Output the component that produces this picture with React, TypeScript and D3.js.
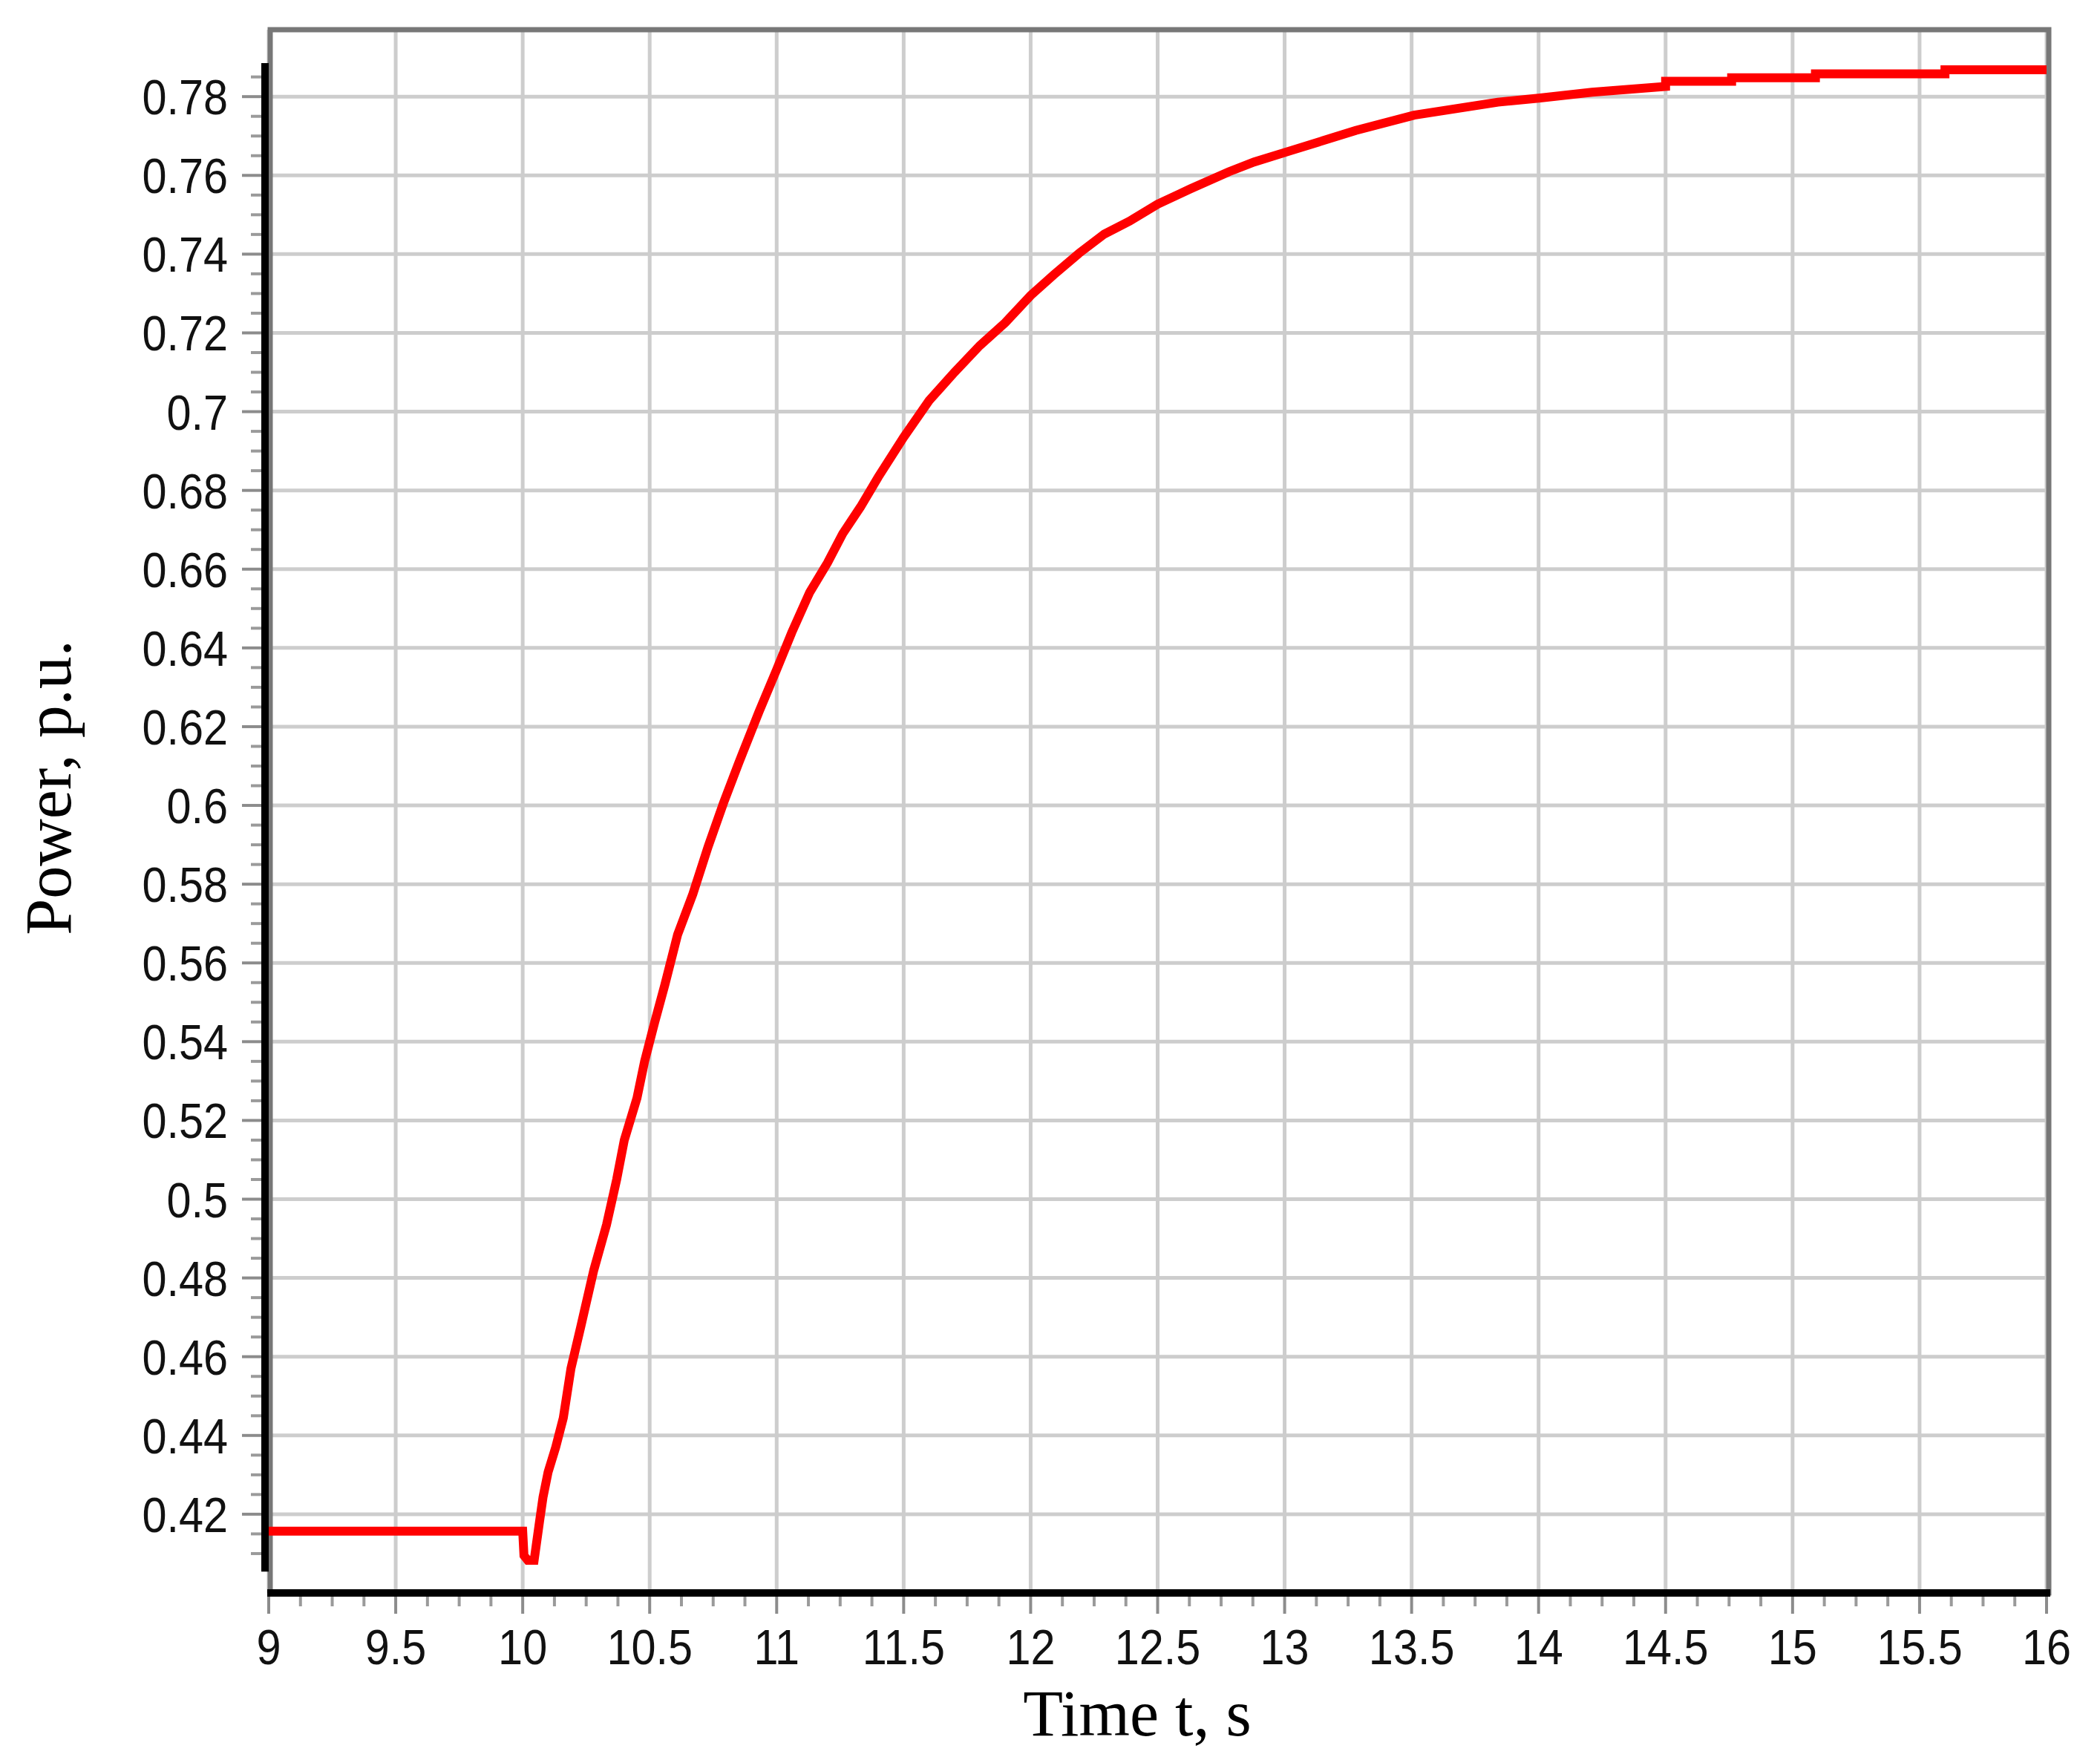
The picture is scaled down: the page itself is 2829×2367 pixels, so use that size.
import React from "react";
import * as d3 from "d3";

// ---- data ----
const TIME = [
  9.0, 10.0, 10.005, 10.02, 10.045, 10.066, 10.08, 10.1, 10.13, 10.16, 10.19, 10.23, 10.28,
  10.33, 10.37, 10.4, 10.45, 10.48, 10.52, 10.56, 10.61, 10.67, 10.73, 10.79, 10.85, 10.93,
  11.0, 11.06, 11.13, 11.2, 11.26, 11.33, 11.4, 11.5, 11.6, 11.7, 11.8, 11.9, 12.0, 12.09,
  12.19, 12.29, 12.39, 12.5, 12.63, 12.78, 12.88, 13.02, 13.28, 13.51, 13.84, 14.0, 14.21,
  14.5, 14.5, 14.76, 14.76, 15.09, 15.09, 15.6, 15.6, 16.0,
];
const POWER = [
  0.4157, 0.4157, 0.4095, 0.4083, 0.4083, 0.418, 0.4243, 0.4307, 0.437, 0.4445, 0.457, 0.468,
  0.482, 0.4935, 0.505, 0.515, 0.5257, 0.535, 0.545, 0.5545, 0.5672, 0.5775, 0.5895, 0.6005,
  0.6107, 0.6237, 0.6345, 0.644, 0.6541, 0.6616, 0.669, 0.6758, 0.6834, 0.6935, 0.7028, 0.71,
  0.7168, 0.7226, 0.7295, 0.7347, 0.7402, 0.7451, 0.7484, 0.7527, 0.7566, 0.7609, 0.7634,
  0.7662, 0.7714, 0.7753, 0.7786, 0.7796, 0.7811, 0.7826, 0.7839, 0.7839, 0.7848, 0.7848,
  0.7858, 0.7858, 0.7868, 0.7868,
];
const X_TICKS = [9, 9.5, 10, 10.5, 11, 11.5, 12, 12.5, 13, 13.5, 14, 14.5, 15, 15.5, 16];
const X_TICK_LABELS = ["9", "9.5", "10", "10.5", "11", "11.5", "12", "12.5", "13", "13.5", "14", "14.5", "15", "15.5", "16"];
const Y_TICKS = [0.42, 0.44, 0.46, 0.48, 0.5, 0.52, 0.54, 0.56, 0.58, 0.6, 0.62, 0.64, 0.66, 0.68, 0.7, 0.72, 0.74, 0.76, 0.78];
const Y_TICK_LABELS = ["0.42", "0.44", "0.46", "0.48", "0.5", "0.52", "0.54", "0.56", "0.58", "0.6", "0.62", "0.64", "0.66", "0.68", "0.7", "0.72", "0.74", "0.76", "0.78"];
const X_LABEL = "Time t, s";
const Y_LABEL = "Power, p.u.";

const W = 2829;
const H = 2367;

export default function App() {
  const x = d3.scaleLinear().domain([9, 16]).range([362, 2757]);
  const y = d3.scaleLinear().domain([0.4, 0.797]).range([2146, 40]);

  const pts = TIME.map((t, i) => [t, POWER[i]] as [number, number]);
  const line = d3
    .line<[number, number]>()
    .x((d) => x(d[0]))
    .y((d) => y(d[1]))
    .curve(d3.curveLinear);

  const xMinor = d3.range(9, 16.0001, 0.125).filter((v) => Math.abs(v * 2 - Math.round(v * 2)) > 1e-6);
  const yMinor = d3.range(0.41, 0.7851, 0.005).filter((v) => Math.abs(v * 50 - Math.round(v * 50)) > 1e-6 || v < 0.415);

  const tickFont = "'Liberation Sans', Arial, sans-serif";
  const labelFont = "'Liberation Serif', 'Times New Roman', serif";
  const left = x(9);
  const right = x(16);
  const top = y(0.797);
  const bottom = y(0.4);

  return (
    <svg
      width={W}
      height={H}
      viewBox={`0 0 ${W} ${H}`}
      style={{ position: "absolute", left: 0, top: 0, background: "#fff", display: "block" }}
    >
      <rect x={0} y={0} width={W} height={H} fill="#fff" />
      {/* grid */}
      {X_TICKS.map((t) => (
        <line key={"gx" + t} x1={x(t)} x2={x(t)} y1={top} y2={bottom} stroke="#cdcdcd" strokeWidth={5} />
      ))}
      {Y_TICKS.map((v) => (
        <line key={"gy" + v} x1={left} x2={right} y1={y(v)} y2={y(v)} stroke="#cdcdcd" strokeWidth={5} />
      ))}
      {/* frame */}
      <rect x={left + 2} y={top} width={right - left + 1} height={bottom - top} fill="none" stroke="#777" strokeWidth={7} />
      {/* series */}
      <path d={line(pts) || ""} fill="none" stroke="#ff0000" strokeWidth={12} strokeLinejoin="miter" strokeLinecap="butt" />
      {/* y axis */}
      <line x1={357} x2={357} y1={y(0.7885)} y2={y(0.4054)} stroke="#000" strokeWidth={10} />
      {Y_TICKS.map((v) => (
        <line key={"ty" + v} x1={326} x2={352} y1={y(v)} y2={y(v)} stroke="#8c8c8c" strokeWidth={4} />
      ))}
      {yMinor.map((v, i) => (
        <line key={"tym" + i} x1={338} x2={352} y1={y(v)} y2={y(v)} stroke="#9a9a9a" strokeWidth={4} />
      ))}
      {Y_TICKS.map((v, i) => (
        <text
          key={"ly" + v}
          transform={`translate(307,${y(v) + 24}) scale(0.9,1)`}
          textAnchor="end"
          fontFamily={tickFont}
          fontSize={66}
          fill="#111"
        >
          {Y_TICK_LABELS[i]}
        </text>
      ))}
      {/* x axis */}
      <line x1={left - 2} x2={right + 5} y1={bottom} y2={bottom} stroke="#000" strokeWidth={10} />
      {X_TICKS.map((t) => (
        <line key={"tx" + t} x1={x(t)} x2={x(t)} y1={bottom + 5} y2={bottom + 28} stroke="#8c8c8c" strokeWidth={4} />
      ))}
      {xMinor.map((t, i) => (
        <line key={"txm" + i} x1={x(t)} x2={x(t)} y1={bottom + 5} y2={bottom + 18} stroke="#9a9a9a" strokeWidth={4} />
      ))}
      {X_TICKS.map((t, i) => (
        <text
          key={"lx" + t}
          transform={`translate(${x(t)},2242) scale(0.9,1)`}
          textAnchor="middle"
          fontFamily={tickFont}
          fontSize={66}
          fill="#111"
        >
          {X_TICK_LABELS[i]}
        </text>
      ))}
      {/* axis titles */}
      <text x={1532} y={2338} textAnchor="middle" fontFamily={labelFont} fontSize={88} fill="#000">
        {X_LABEL}
      </text>
      <text
        transform="translate(95,1061) rotate(-90)"
        textAnchor="middle"
        fontFamily={labelFont}
        fontSize={88}
        fill="#000"
      >
        {Y_LABEL}
      </text>
    </svg>
  );
}
